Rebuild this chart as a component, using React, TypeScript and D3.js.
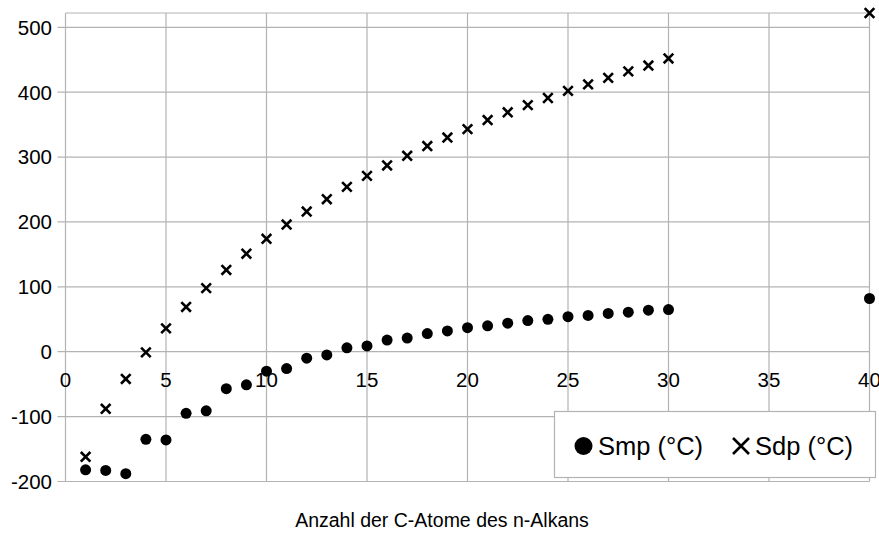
import * as d3 from 'd3';

// n-alkane melting / boiling points
const carbonAtoms = [
  1, 2, 3, 4, 5, 6, 7, 8, 9, 10, 11, 12, 13, 14, 15, 16, 17, 18, 19, 20,
  21, 22, 23, 24, 25, 26, 27, 28, 29, 30, 40,
];
const smp = [
  -182, -183, -188, -135, -136, -95, -91, -57, -51, -30, -26, -10, -5, 6, 9, 18,
  21, 28, 32, 37, 40, 44, 48, 50, 54, 56, 59, 61, 64, 65, 82,
];
const sdp = [
  -162, -88, -42, -1, 36, 69, 98, 126, 151, 174, 196, 216, 235, 254, 271, 287,
  302, 317, 330, 343, 357, 369, 380, 391, 402, 412, 422, 432, 441, 452, 522,
];
const xTicks = [0, 5, 10, 15, 20, 25, 30, 35, 40];
const yTicks = [-200, -100, 0, 100, 200, 300, 400, 500];
const xTitle = 'Anzahl der C-Atome des n-Alkans';
const seriesNames = ['Smp (°C)', 'Sdp (°C)'];

const W = 879;
const H = 535;
const grid = '#b3b3b3';
const font = '"Liberation Sans", Arial, sans-serif';

export default function App() {
  const x = d3.scaleLinear().domain([0, 40]).range([65.5, 869.5]);
  const y = d3.scaleLinear().domain([-200, 522]).range([481.5, 13]);
  const y0 = y(0);

  const cross = (cx: number, cy: number, s: number) =>
    `M${cx - s},${cy - s}L${cx + s},${cy + s}M${cx - s},${cy + s}L${cx + s},${cy - s}`;

  return (
    <svg
      width={W}
      height={H}
      style={{ position: 'absolute', left: 0, top: 0, background: '#fff' }}
      fontFamily={font}
    >
      {/* grid */}
      <g stroke={grid} strokeWidth={1.2}>
        {xTicks.map((t) => (
          <line key={'gx' + t} x1={x(t)} x2={x(t)} y1={y(522)} y2={y(-200)} />
        ))}
        {yTicks.map((t) => (
          <line key={'gy' + t} x1={x(0) - 8} x2={x(40)} y1={y(t)} y2={y(t)} />
        ))}
        <line x1={x(0)} x2={x(40)} y1={y(522)} y2={y(522)} />
      </g>

      {/* y tick labels */}
      <g fontSize={20.5} fill="#000" textAnchor="end">
        {yTicks.map((t) => (
          <text key={'ly' + t} x={52} y={y(t)} dy="0.36em">
            {t}
          </text>
        ))}
      </g>

      {/* x tick labels sit at the zero line */}
      <g fontSize={20.5} fill="#000" textAnchor="middle">
        {xTicks.map((t) => (
          <text key={'lx' + t} x={x(t)} y={y0 + 35}>
            {t}
          </text>
        ))}
      </g>

      {/* Smp */}
      <g fill="#000">
        {carbonAtoms.map((c, i) => (
          <circle key={'m' + c} cx={x(c)} cy={y(smp[i])} r={5.5} />
        ))}
      </g>

      {/* Sdp */}
      <g stroke="#000" strokeWidth={2.6} fill="none">
        {carbonAtoms.map((c, i) => (
          <path key={'b' + c} d={cross(x(c), y(sdp[i]), 4.8)} />
        ))}
      </g>

      {/* legend */}
      <rect x={554.5} y={411.5} width={321} height={66} fill="#fff" stroke={grid} strokeWidth={1.2} />
      <circle cx={583.5} cy={446} r={9} fill="#000" />
      <text x={598} y={455} fontSize={25.5}>
        {seriesNames[0]}
      </text>
      <path d={cross(741, 446, 8)} stroke="#000" strokeWidth={2.6} />
      <text x={755} y={455} fontSize={25.5}>
        {seriesNames[1]}
      </text>

      <text x={442} y={527} fontSize={19.5} textAnchor="middle">
        {xTitle}
      </text>
    </svg>
  );
}
